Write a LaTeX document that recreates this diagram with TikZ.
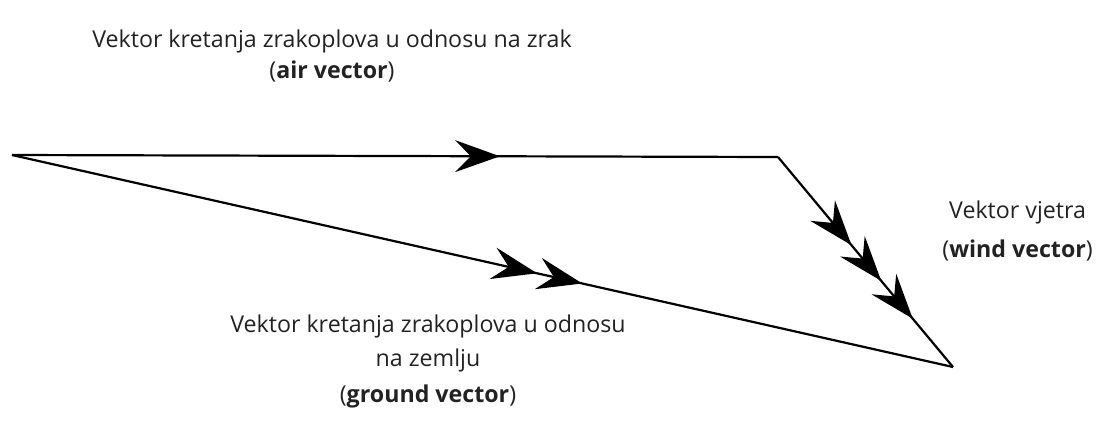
\documentclass[tikz,border=0pt]{standalone}
\usepackage{fontspec}
\setmainfont{Open Sans}
\usetikzlibrary{arrows.meta, decorations.markings}

\begin{document}
\begin{tikzpicture}[x=1pt, y=-1pt]
    % Define colours
    \definecolor{lineColour}{HTML}{000000}
    \definecolor{textColour}{HTML}{222222}

    % Styles for the vectors and their labels
    \tikzset{
      vectorline/.style={draw=lineColour, line width=2.2pt},
      headtip/.tip={Stealth[length=45pt, width=32pt, inset=16pt]},
      label/.style={text=textColour, font=\fontsize{23.2}{34}\selectfont, align=center, inner sep=0pt}
    }

    % Fix the size of the picture
    \useasboundingbox (0,0) rectangle (1099,424);

  % Corners of the vector triangle
  \coordinate (A) at (12,155);  % start of both aircraft vectors
  \coordinate (B) at (778,157); % end of the air vector
  \coordinate (C) at (953,367); % end of the ground vector

  % Air vector, one arrow head
  \draw[vectorline, postaction={decorate},
        decoration={markings, mark=at position 0.637 with {\arrow{headtip}}}]
    (A) -- (B);

  % Wind vector, three arrow heads
  \draw[vectorline, postaction={decorate},
        decoration={markings,
          mark=at position 0.42 with {\arrow{headtip}},
          mark=at position 0.59 with {\arrow{headtip}},
          mark=at position 0.77 with {\arrow{headtip}}}]
    (B) -- (C);

  % Ground vector, two arrow heads
  \draw[vectorline, postaction={decorate},
        decoration={markings,
          mark=at position 0.558 with {\arrow{headtip}},
          mark=at position 0.606 with {\arrow{headtip}}}]
    (A) -- (C);

  % Labels of the vectors
  \node[label] (airLabel) at (332,56)
    {Vektor kretanja zrakoplova u odnosu na zrak\\[-3pt](\textbf{air vector})};
  \node[label, anchor=east] (windLabel) at (1093,231)
    {Vektor vjetra\\[5pt](\textbf{wind vector})};
  \node[label] (groundLabel) at (428,361)
    {Vektor kretanja zrakoplova u odnosu\\na zemlju\\[2pt](\textbf{ground vector})};

\end{tikzpicture}
\end{document}
